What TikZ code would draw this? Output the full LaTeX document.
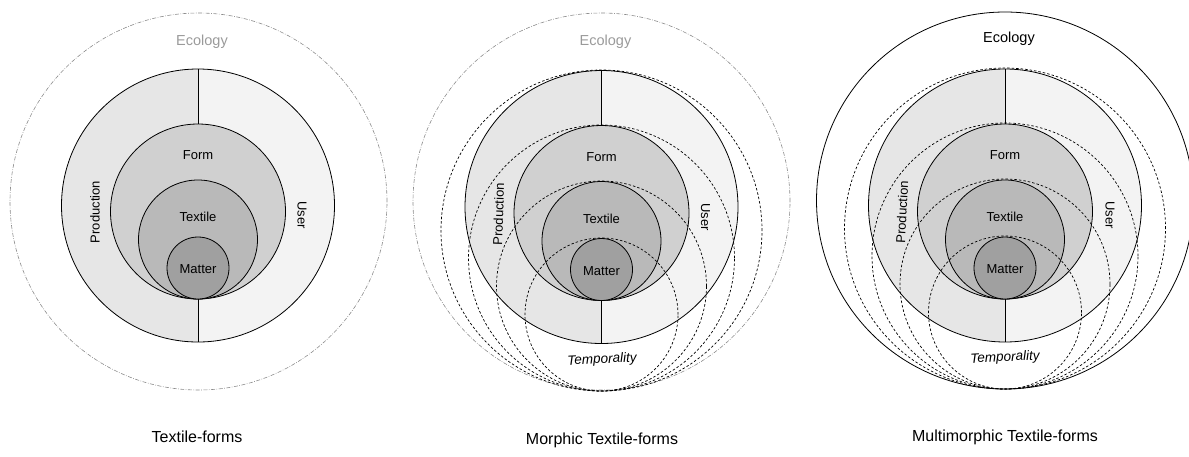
\documentclass[tikz,border=0pt]{standalone}
\usepackage{fontspec}
\setmainfont{Liberation Sans}
\definecolor{leftcol}{HTML}{E6E6E6}
\definecolor{rightcol}{HTML}{F3F3F3}
\definecolor{formcol}{HTML}{D0D0D0}
\definecolor{textilecol}{HTML}{B9B9B9}
\definecolor{mattercol}{HTML}{A0A0A0}
\definecolor{ecogray}{HTML}{8C8C8C}
\definecolor{ecotext}{HTML}{9A9A9A}
\tikzset{
  ring/.style={circle, draw=black, line width=0.8pt, inner sep=0pt, outer sep=0pt},
  dring/.style={circle, draw=black, line width=0.7pt, inner sep=0pt, outer sep=0pt, dash pattern=on 2.5pt off 2pt},
  ecodd/.style={circle, draw=ecogray, line width=0.6pt, inner sep=0pt, outer sep=0pt, dash pattern=on 4pt off 1.5pt on 0.7pt off 1.5pt},
  ecosolid/.style={circle, draw=black, line width=0.8pt, inner sep=0pt, outer sep=0pt},
  divider/.style={draw=black, line width=0.8pt},
  lab/.style={font=\fontsize{13}{15}\selectfont, inner sep=1pt},
  templab/.style={font=\fontsize{13.5}{15}\selectfont\itshape, inner sep=1pt, rotate=3},
  ecolab/.style={font=\fontsize{14.5}{17}\selectfont, inner sep=1pt},
  caption/.style={font=\fontsize{16}{19}\selectfont, inner sep=1pt},
}
% #1 prefix, #2 cx, #3 dy
\newcommand\coreset[3]{%
  \begin{scope}[shift={(#2,#3)}]
    \begin{scope}
      \clip (-200,0) rectangle (0,460);
      \fill[leftcol] (0,205.5) circle[radius=136.5];
    \end{scope}
    \begin{scope}
      \clip (0,0) rectangle (200,460);
      \fill[rightcol] (0,205.5) circle[radius=136.5];
    \end{scope}
    \node[ring, minimum size=273pt] (#1outer) at (0,205.5) {};
    \node[ring, fill=formcol, minimum size=175pt] (#1form) at (0,211.5) {};
    \node[ring, fill=textilecol, minimum size=119pt] (#1textile) at (0,239.5) {};
    \node[ring, fill=mattercol, minimum size=62pt] (#1matter) at (0,268) {};
    \draw[divider] (#1outer.north) -- (#1form.north);
    \draw[divider] (#1form.south) -- (#1outer.south);
  \end{scope}}
\newcommand\dashset[3]{%
  \begin{scope}[shift={(#2,#3)}]
    \node[dring, minimum size=321pt] (#1d1) at (0,229.5) {};
    \node[dring, minimum size=266pt] (#1d2) at (0,257) {};
    \node[dring, minimum size=210pt] (#1d3) at (0,285) {};
    \node[dring, minimum size=153pt] (#1d4) at (0,313.5) {};
  \end{scope}}
\newcommand\labelset[5]{% #1 prefix #2 cx #3 dy #4 prod rot #5 user dx
  \begin{scope}[shift={(#2,#3)}]
    \node[lab] (#1formlab) at (0,155) {Form};
    \node[lab] (#1textilelab) at (0,217) {Textile};
    \node[lab] (#1matterlab) at (0,269) {Matter};
    \node[lab, rotate=#4] (#1prodlab) at (-103,212) {Production};
    \node[lab, rotate=-90] (#1userlab) at (#5,215) {User};
  \end{scope}}
\begin{document}
\begin{tikzpicture}[x=1pt, y=-1pt]
  \useasboundingbox (0,0) rectangle (1189,456);
  % ---------- diagram 1 ----------
  \node[ecodd, minimum size=377pt] (aeco) at (198.5,201.5) {};
  \coreset{a}{198}{0}
  \labelset{a}{198}{0}{90}{104}
  \node[ecolab, text=ecotext] (aecolab) at (202,42) {Ecology};
  \node[caption] (acap) at (197,437) {Textile-forms};
  % ---------- diagram 2 ----------
  \node[ecodd, minimum size=377pt] (beco) at (601.5,201.5) {};
  \coreset{b}{601.5}{1.5}
  \dashset{b}{601.5}{1}
  \labelset{b}{601.5}{2}{88}{104}
  \node[ecolab, text=ecotext] (becolab) at (605.5,42) {Ecology};
  \node[templab] (btemplab) at (602,360) {Temporality};
  \node[caption] (bcap) at (602,440) {Morphic Textile-forms};
  % ---------- diagram 3 ----------
  \node[ecosolid, minimum size=377pt] (ceco) at (1005,200.5) {};
  \coreset{c}{1005}{0}
  \dashset{c}{1005}{-1}
  \labelset{c}{1005}{0}{87}{105}
  \node[ecolab] (cecolab) at (1009,39) {Ecology};
  \node[templab] (ctemplab) at (1005,358) {Temporality};
  \node[caption] (ccap) at (1005,437) {Multimorphic Textile-forms};
\end{tikzpicture}
\end{document}
